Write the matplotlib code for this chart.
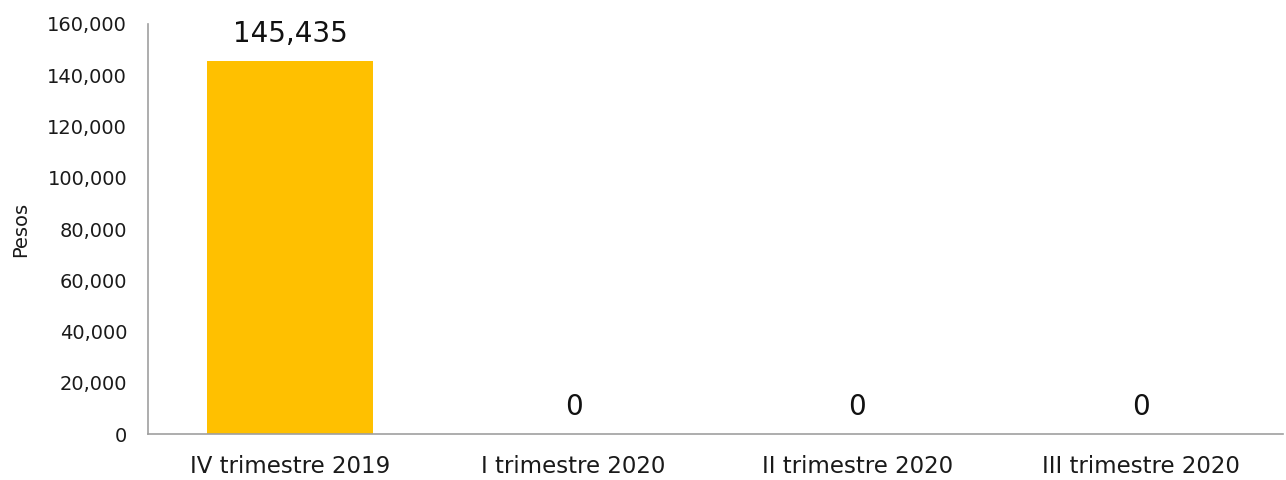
import matplotlib
matplotlib.use("Agg")
import matplotlib.pyplot as plt
from matplotlib.ticker import FuncFormatter

# data
categories = ["IV trimestre 2019", "I trimestre 2020", "II trimestre 2020", "III trimestre 2020"]
values = [145435, 0, 0, 0]

plt.rcParams['font.family'] = ['DejaVu Sans']

fig = plt.figure(figsize=(12.86, 4.8), dpi=100)
ax = fig.add_axes([0.1151, 0.0958, 0.8826, 0.8542])

x = range(len(categories))
bars = ax.bar(x, values, width=0.585, color='#FFC000')

ax.set_xlim(-0.5, len(categories) - 0.5)
ax.set_ylim(0, 160000)
ax.set_yticks(range(0, 160001, 20000))
ax.yaxis.set_major_formatter(FuncFormatter(lambda v, p: f"{int(v):,}"))
ax.set_xticks(list(x))
ax.set_xticklabels(categories, fontsize=16.5, color='#1a1a1a')
ax.tick_params(axis='y', labelsize=14, colors='#1a1a1a', length=0, pad=15)
ax.tick_params(axis='x', length=0, pad=15)
ax.set_ylabel("Pesos", fontsize=14, color='#1a1a1a')
ax.yaxis.set_label_coords(-0.104, 0.5)

# values above bars
for bar, v in zip(bars, values):
    ax.text(bar.get_x() + bar.get_width() / 2, v + 7600, f"{v:,}",
            ha='center', va='baseline', fontsize=20, color='#111111')

for s in ['top', 'right']:
    ax.spines[s].set_visible(False)
ax.spines['left'].set_color('#a0a0a0')
ax.spines['bottom'].set_color('#a0a0a0')
ax.spines['left'].set_linewidth(1.2)
ax.spines['bottom'].set_linewidth(1.2)

fig.savefig("out.png", dpi=100)
